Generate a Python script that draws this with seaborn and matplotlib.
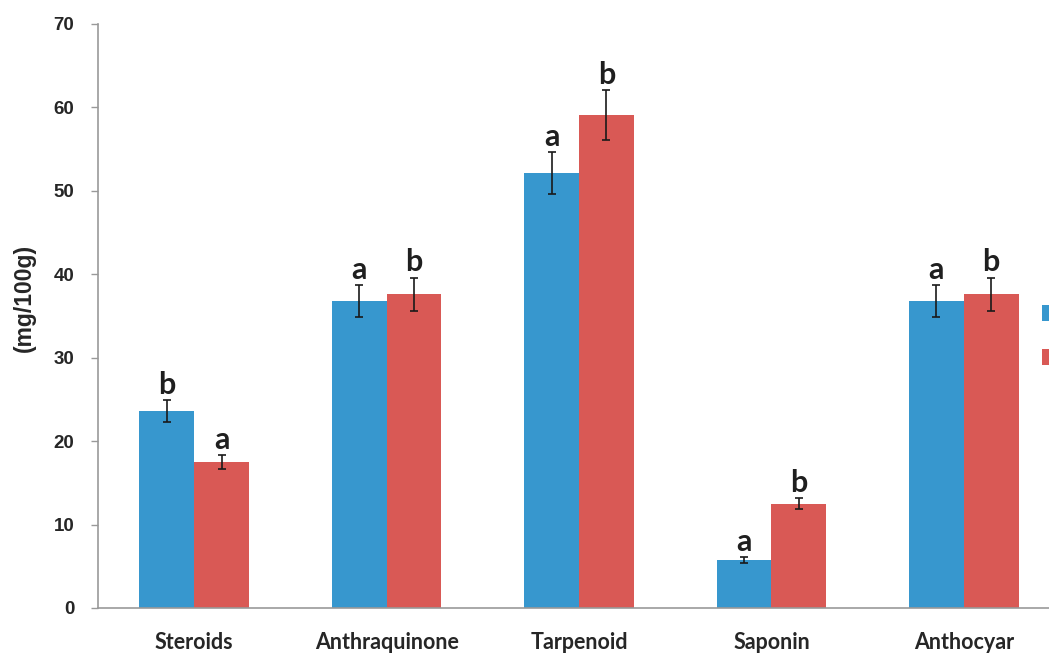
import matplotlib
matplotlib.use("Agg")
import matplotlib.pyplot as plt
from matplotlib.patches import Patch
from matplotlib.container import BarContainer
import seaborn as sns
import pandas as pd
import numpy as np

categories = ["Steroids", "Anthraquinone", "Tarpenoid", "Saponin", "Anthocyar"]
series_names = ["Control", "Treated"]
values_a = [23.6, 36.8, 52.1, 5.75, 36.8]
values_b = [17.5, 37.6, 59.1, 12.5, 37.6]
err_a = [1.3, 1.9, 2.5, 0.35, 1.9]
err_b = [0.85, 2.0, 3.0, 0.65, 2.0]
letters_a = ["b", "a", "a", "a", "a"]
letters_b = ["a", "b", "b", "b", "b"]
yticks = [0, 10, 20, 30, 40, 50, 60, 70]
ylabel = "(mg/100g)"

colors = ["#3797CE", "#D95955"]
narrow = ["Lato"]

df = pd.DataFrame({
    "cat": categories * 2,
    "series": [series_names[0]] * 5 + [series_names[1]] * 5,
    "val": values_a + values_b,
})

sns.set_theme(style="white")
plt.rcParams["font.family"] = ["Liberation Sans", "DejaVu Sans"]

fig = plt.figure(figsize=(10.49, 6.55), dpi=100)
ax = fig.add_axes([98 / 1049, 47 / 655, 962 / 1049, 584 / 655])

sns.barplot(data=df, x="cat", y="val", hue="series", order=categories,
            hue_order=series_names, palette=colors, width=0.57, gap=0,
            saturation=1, linewidth=0, errorbar=None, ax=ax, legend=False)

bar_containers = [c for c in ax.containers if isinstance(c, BarContainer)]
for ci, cont in enumerate(bar_containers):
    e = err_a if ci == 0 else err_b
    lt = letters_a if ci == 0 else letters_b
    for j, bar in enumerate(cont.patches):
        xc = bar.get_x() + bar.get_width() / 2
        h = bar.get_height()
        ax.errorbar(xc, h, yerr=e[j], fmt="none", ecolor="#1a1a1a",
                    elinewidth=1.2, capsize=2.7, capthick=1.2, zorder=5)
        ax.annotate(lt[j], (xc, h + e[j]), xytext=(0, 1),
                    textcoords="offset points", ha="center", va="bottom",
                    fontsize=22, fontweight="bold", family=narrow,
                    color="#1f1f1f")

ax.set_ylim(0, 70)
ax.set_xlim(-0.5, 4.5)
ax.set_yticks(yticks)
ax.set_yticklabels([str(t) for t in yticks], fontsize=13.5, fontweight="bold",
                   color="#262626")
ax.set_xticks(range(len(categories)))
ax.set_xticklabels(categories, fontsize=15.5, fontweight="bold", family=narrow,
                   color="#262626")
ax.tick_params(axis="x", length=0, pad=17)
ax.tick_params(axis="y", length=5, width=1, color="#999999", left=True,
               direction="out", pad=12)
ax.set_xlabel("")
ax.set_ylabel("")
fig.text(24 / 1049, 1 - 298 / 655, ylabel, rotation=90, ha="center",
         va="center", fontsize=16.5, fontweight="bold", color="#262626")
for s in ["top", "right"]:
    ax.spines[s].set_visible(False)
for s in ["left", "bottom"]:
    ax.spines[s].set_color("#999999")
    ax.spines[s].set_linewidth(1.2)

handles = [Patch(facecolor=c, edgecolor="none") for c in colors]
fig.legend(handles, series_names, loc="upper left",
           bbox_to_anchor=(1042 / 1049, 1 - 305 / 655),
           frameon=False, fontsize=13, handlelength=1.0, handleheight=0.95,
           labelspacing=1.45, borderpad=0, borderaxespad=0, handletextpad=1.2)

fig.savefig("out.png", dpi=100)
